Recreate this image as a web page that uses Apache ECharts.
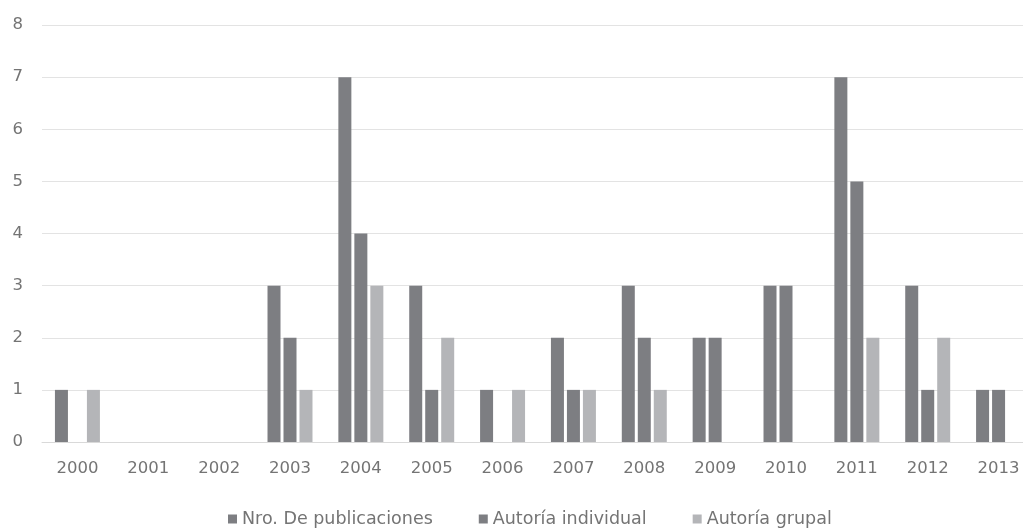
<!DOCTYPE html>
<html>
<head>
<meta charset="utf-8">
<script src="https://cdn.jsdelivr.net/npm/echarts@6/dist/echarts.min.js"></script>
<style>html,body{margin:0;padding:0;background:#fff;overflow:hidden;}#c{width:1034px;height:529px;}</style>
</head>
<body>
<div id="c"></div>
<script>
var years = ['2000','2001','2002','2003','2004','2005','2006','2007','2008','2009','2010','2011','2012','2013'];
var publicaciones = [1,0,0,3,7,3,1,2,3,2,3,7,3,1];
var individual = [0,0,0,2,4,1,0,1,2,2,3,5,1,1];
var grupal = [1,0,0,1,3,2,1,1,1,0,0,2,2,0];
var seriesNames = ['Nro. De publicaciones','Autoría individual','Autoría grupal'];
var colors = ['#7d7e82','#7d7e82','#b4b5b8'];

var chart = echarts.init(document.getElementById('c'), null, {renderer:'canvas'});
var font = 'DejaVu Sans';
function mk(name, data, color){
  return {name:name, type:'bar', data:data, barWidth:13, barGap:'23%',
    itemStyle:{color:color}, emphasis:{disabled:true}};
}
chart.setOption({
  animation:false,
  textStyle:{fontFamily:font},
  grid:{left:42, top:25, right:0, bottom:87, containLabel:false},
  legend:{bottom:1, left:228, padding:0, itemWidth:9, itemHeight:9, itemGap:46,
    icon:'rect', textStyle:{color:'#747474', fontSize:17.5, fontFamily:font},
    data:seriesNames},
  xAxis:{type:'category', data:years,
    axisLine:{lineStyle:{color:'#d9d9d9'}}, axisTick:{show:false},
    axisLabel:{color:'#747474', fontSize:16.5, margin:18}},
  yAxis:{type:'value', min:0, max:8, interval:1,
    axisLine:{show:false}, axisTick:{show:false},
    splitLine:{lineStyle:{color:'#e3e3e3'}},
    axisLabel:{color:'#747474', fontSize:16.5, margin:19}},
  series:[mk(seriesNames[0], publicaciones, colors[0]),
          mk(seriesNames[1], individual, colors[1]),
          mk(seriesNames[2], grupal, colors[2])]
});
</script>
</body>
</html>
